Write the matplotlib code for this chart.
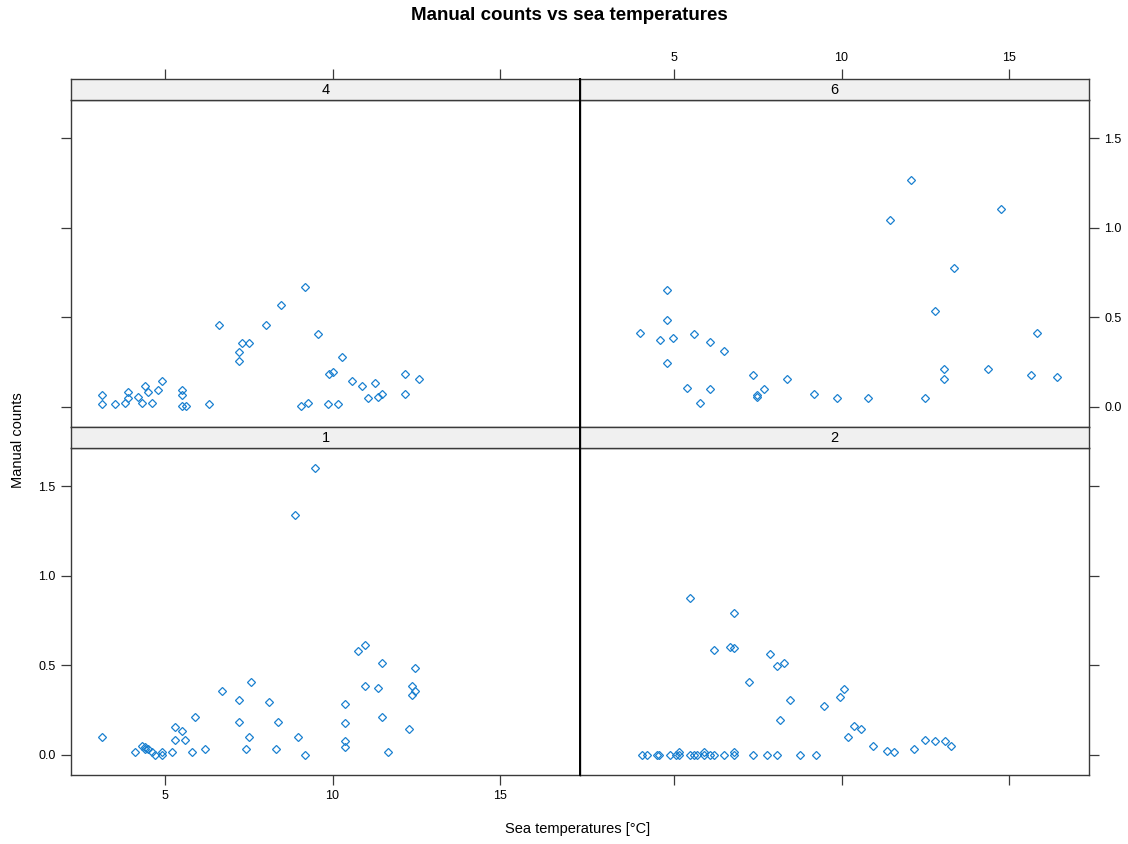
import matplotlib
matplotlib.use("Agg")
import matplotlib.pyplot as plt

plt.rcParams["font.family"] = ["Liberation Sans", "DejaVu Sans"]

# sea temperature (x) and manual counts (y) per station
x4 = [3.12, 3.12, 3.51, 3.81, 3.90, 3.90, 4.19, 4.31, 4.40, 4.49, 4.61, 4.79, 4.91,
      5.51, 5.51, 5.51, 5.61, 6.30, 6.60, 7.20, 7.20, 7.29, 7.50, 8.01, 8.47, 9.19,
      9.58, 9.07, 9.28, 9.86, 9.88, 10.00, 10.17, 10.29, 10.58, 10.88, 11.27, 11.07,
      11.36, 11.48, 12.16, 12.16, 12.58]
y4 = [0.067, 0.017, 0.017, 0.020, 0.085, 0.048, 0.054, 0.022, 0.117, 0.083, 0.022, 0.096, 0.146,
      0.096, 0.065, 0.004, 0.004, 0.017, 0.456, 0.307, 0.257, 0.357, 0.357, 0.456, 0.567, 0.667,
      0.407, 0.004, 0.022, 0.017, 0.183, 0.196, 0.017, 0.276, 0.146, 0.117, 0.135, 0.048,
      0.054, 0.072, 0.183, 0.072, 0.154]

x6 = [4.78, 4.78, 3.97, 4.57, 4.97, 5.59, 6.07, 6.48, 4.78, 5.38, 6.07, 5.77, 7.37, 7.48,
      7.48, 7.67, 8.36, 9.17, 9.87, 10.78, 11.46, 12.06, 12.48, 12.78, 13.07, 13.07, 13.37,
      14.36, 14.77, 15.66, 15.84, 16.44]
y6 = [0.654, 0.487, 0.413, 0.376, 0.387, 0.407, 0.363, 0.313, 0.246, 0.104, 0.098, 0.022, 0.178, 0.065,
      0.054, 0.098, 0.154, 0.072, 0.048, 0.048, 1.043, 1.265, 0.048, 0.535, 0.213, 0.154, 0.776,
      0.213, 1.104, 0.178, 0.413, 0.165]

x1 = [3.12, 4.10, 4.31, 4.40, 4.40, 4.50, 4.60, 4.70, 4.90, 4.90, 5.20, 5.30, 5.30, 5.51,
      5.60, 5.80, 5.89, 6.19, 6.69, 7.20, 7.20, 7.50, 7.41, 7.58, 8.10, 8.38, 8.30, 8.98,
      9.19, 10.37, 10.37, 10.37, 10.37, 10.76, 10.97, 11.48, 12.46, 10.97, 11.36, 12.36,
      12.46, 12.36, 11.48, 12.27, 11.66, 8.88, 9.48]
y1 = [0.100, 0.015, 0.052, 0.043, 0.033, 0.033, 0.015, 0.0, 0.015, 0.0, 0.015, 0.083, 0.156, 0.131,
      0.083, 0.015, 0.211, 0.033, 0.354, 0.304, 0.182, 0.100, 0.033, 0.404, 0.293, 0.182, 0.033, 0.100,
      0.0, 0.285, 0.180, 0.076, 0.044, 0.578, 0.613, 0.515, 0.483, 0.385, 0.374, 0.385,
      0.356, 0.335, 0.213, 0.144, 0.015, 1.339, 1.600]

x2 = [5.48, 6.79, 6.19, 6.66, 6.79, 7.87, 8.06, 8.27, 7.25, 8.47, 8.17, 9.47, 9.94, 10.06,
      10.36, 10.57, 10.18, 10.95, 11.37, 11.56, 12.16, 12.49, 12.78, 13.08, 13.26,
      4.05, 4.18, 4.48, 4.55, 4.87, 5.07, 5.15, 5.15, 5.48, 5.58, 5.68, 5.88, 5.88, 6.08,
      6.19, 6.48, 6.78, 6.78, 7.37, 7.78, 8.07, 8.77, 9.25]
y2 = [0.874, 0.793, 0.583, 0.602, 0.594, 0.565, 0.496, 0.515, 0.404, 0.304, 0.193, 0.274, 0.322, 0.367,
      0.163, 0.143, 0.100, 0.050, 0.020, 0.015, 0.031, 0.081, 0.076, 0.076, 0.050,
      0.0, 0.0, 0.0, 0.0, 0.0, 0.0, 0.0, 0.015, 0.0, 0.0, 0.0, 0.0, 0.015, 0.0,
      0.0, 0.0, 0.0, 0.015, 0.0, 0.0, 0.0, 0.0, 0.0]

xticks = [5, 10, 15]
yticks = [0.0, 0.5, 1.0, 1.5]
ytick_labels = ["0.0", "0.5", "1.0", "1.5"]

W, H = 1128, 844
fig = plt.figure(figsize=(W / 100, H / 100), dpi=100)

frame_col = "#3a3a3a"
pt_col = "#1a80d0"
xlim = (2.19, 17.39)
ylim = (-0.112, 1.712)


def box(x0, y0, x1, y1):
    # pixel box (top-left origin) -> figure fraction rect
    return [x0 / W, 1 - y1 / H, (x1 - x0) / W, (y1 - y0) / H]


def style_ticks(a):
    a.tick_params(axis="both", direction="out", length=7, width=0.9,
                  color=frame_col, labelsize=9, pad=4)


# (label, x, y, panel box, strip box, x tick side, y tick side, show labels)
panels = [
    ("4", x4, y4, (71, 100, 580, 427), (71, 79, 580, 100), "top", "left", False),
    ("6", x6, y6, (580, 100, 1089, 427), (580, 79, 1089, 100), "top", "right", True),
    ("1", x1, y1, (71, 448, 580, 775), (71, 427, 580, 448), "bottom", "left", True),
    ("2", x2, y2, (580, 448, 1089, 775), (580, 427, 1089, 448), "bottom", "right", False),
]

for lab, xs, ys, pbox, sbox, xside, yside, show in panels:
    ax = fig.add_axes(box(*pbox))
    ax.plot(xs, ys, linestyle="none", marker="D", markersize=4.2,
            markerfacecolor="none", markeredgecolor=pt_col, markeredgewidth=0.9)
    ax.set_xlim(*xlim)
    ax.set_ylim(*ylim)
    for s in ax.spines.values():
        s.set_color(frame_col)
        s.set_linewidth(1.0)

    ax.set_xticks(xticks)
    ax.set_yticks(yticks)
    ax.set_yticklabels(ytick_labels)
    style_ticks(ax)
    ax.tick_params(axis="x", top=False, bottom=(xside == "bottom"),
                   labeltop=False, labelbottom=(xside == "bottom" and show))
    ax.tick_params(axis="y", left=(yside == "left"), right=(yside == "right"),
                   labelleft=(yside == "left" and show),
                   labelright=(yside == "right" and show))

    # strip above each panel; top-row strips carry the top x axis
    sax = fig.add_axes(box(*sbox))
    sax.set_facecolor("#f0f0f0")
    sax.set_xlim(*xlim)
    sax.set_yticks([])
    if xside == "top":
        sax.set_xticks(xticks)
        style_ticks(sax)
        sax.tick_params(axis="x", top=True, bottom=False,
                        labeltop=show, labelbottom=False)
    else:
        sax.set_xticks([])
    for s in sax.spines.values():
        s.set_color(frame_col)
        s.set_linewidth(1.0)
    sax.text(0.5, 0.47, lab, ha="center", va="center", fontsize=10.5,
             transform=sax.transAxes)

# heavier divider between the left and right columns
fig.add_artist(plt.Line2D([580 / W, 580 / W], [1 - 775 / H, 1 - 79 / H],
                          color="black", linewidth=1.4))

fig.text(569 / W, 1 - 16 / H, "Manual counts vs sea temperatures",
         ha="center", va="center", fontsize=13.5, fontweight="bold")
fig.text(578 / W, 1 - 829 / H, "Sea temperatures [°C]",
         ha="center", va="center", fontsize=10.5)
fig.text(18 / W, 1 - 440 / H, "Manual counts", rotation=90,
         ha="center", va="center", fontsize=10.5)

fig.savefig("out.png", dpi=100)
